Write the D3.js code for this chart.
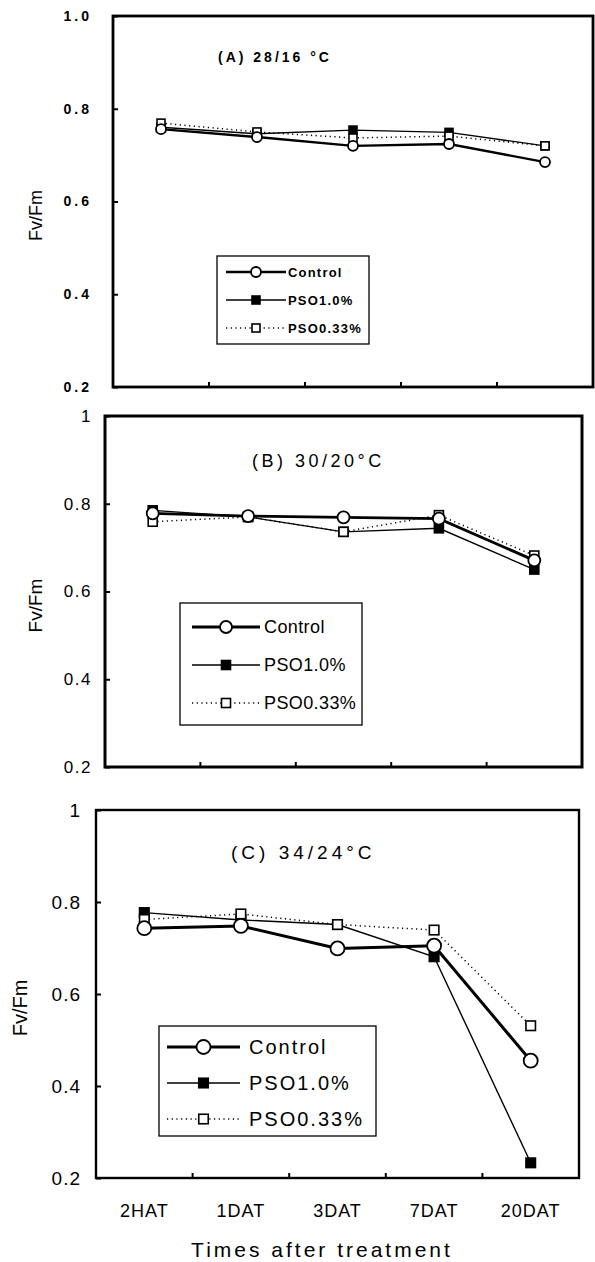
<!DOCTYPE html>
<html>
<head>
<meta charset="utf-8">
<script src="https://cdn.jsdelivr.net/npm/d3@7"></script>
<style>
  body { margin: 0; background: #fff; }
  svg { display: block; font-family: 'Liberation Sans', Arial, sans-serif; }
</style>
</head>
<body>
<svg id="chart" width="595" height="1262"></svg>
<script>
'use strict';

// categories and series
const categories = ['2HAT', '1DAT', '3DAT', '7DAT', '20DAT'];
const seriesNames = ['Control', 'PSO1.0%', 'PSO0.33%'];

// (A) 28/16 °C
const controlA = [0.756, 0.739, 0.720, 0.724, 0.685];
const pso10A = [0.760, 0.746, 0.754, 0.749, 0.720];
const pso033A = [0.769, 0.750, 0.737, 0.741, 0.720];

// (B) 30/20°C
const controlB = [0.778, 0.772, 0.769, 0.766, 0.671];
const pso10B = [0.785, 0.770, 0.736, 0.744, 0.650];
const pso033B = [0.759, 0.770, 0.736, 0.774, 0.682];

// (C) 34/24°C
const controlC = [0.743, 0.748, 0.699, 0.705, 0.455];
const pso10C = [0.777, 0.761, 0.751, 0.681, 0.233];
const pso033C = [0.762, 0.774, 0.751, 0.739, 0.531];

const yTicks = [0.2, 0.4, 0.6, 0.8, 1.0];
const titles = ['(A) 28/16 °C', '(B) 30/20°C', '(C) 34/24°C'];
const yLabel = 'Fv/Fm';
const xLabel = 'Times after treatment';

// layout of the three stacked panels
const panels = [
  {
    values: [controlA, pso10A, pso033A], title: titles[0],
    left: 113, right: 593, top: 16, bottom: 387, frame: 2.8,
    tickFmt: d3.format('.1f'), tickFont: 14, tickWeight: 'bold', tickSpacing: 3, tickPad: 21,
    yLabelX: 42, yLabelFont: 18,
    titleX: 218, titleY: 62, titleFont: 14, titleWeight: 'bold', titleSpacing: 3,
    legend: { x: 217, y: 256, w: 152, h: 88, row: 28, first: 16, lineX0: 226, lineX1: 286, textX: 288, font: 13, weight: 'bold', spacing: 1.2 },
    r: 5, sq: 8, wCtrl: 2.4,
  },
  {
    values: [controlB, pso10B, pso033B], title: titles[1],
    left: 105, right: 582, top: 416, bottom: 767, frame: 3,
    tickFmt: (d) => (d === 1 ? '1' : d3.format('.1f')(d)), tickFont: 17, tickWeight: 'normal', tickSpacing: 1.5, tickPad: 13,
    yLabelX: 42, yLabelFont: 19,
    titleX: 252, titleY: 467, titleFont: 18, titleWeight: 'normal', titleSpacing: 3.5,
    legend: { x: 180, y: 603, w: 182, h: 122, row: 38, first: 24, lineX0: 192, lineX1: 260, textX: 264, font: 18, weight: 'normal', spacing: 0.4 },
    r: 6, sq: 9, wCtrl: 2.8,
  },
  {
    values: [controlC, pso10C, pso033C], title: titles[2],
    left: 96, right: 579, top: 810, bottom: 1178, frame: 2.4,
    tickFmt: (d) => (d === 1 ? '1' : d3.format('.1f')(d)), tickFont: 19, tickWeight: 'normal', tickSpacing: 1, tickPad: 15,
    yLabelX: 27, yLabelFont: 20,
    titleX: 231, titleY: 859, titleFont: 19, titleWeight: 'normal', titleSpacing: 4,
    legend: { x: 159, y: 1026, w: 217, h: 110, row: 36, first: 21, lineX0: 167, lineX1: 240, textX: 249, font: 20, weight: 'normal', spacing: 2 },
    r: 7, sq: 9.5, wCtrl: 3,
    showX: true,
  },
];

const svg = d3.select('#chart');

const styleFor = (p, k) => {
  if (k === 0) return { width: p.wCtrl, dash: null };
  if (k === 1) return { width: 1.4, dash: null };
  return { width: 1.5, dash: '1.2,3.5' };
};

const drawMarker = (g, k, cx, cy, p) => {
  if (k === 0) {
    g.append('circle')
      .attr('cx', cx).attr('cy', cy).attr('r', p.r)
      .attr('fill', '#fff').attr('stroke', '#000').attr('stroke-width', 1.8);
  } else {
    g.append('rect')
      .attr('x', cx - p.sq / 2).attr('y', cy - p.sq / 2)
      .attr('width', p.sq).attr('height', p.sq)
      .attr('fill', k === 1 ? '#000' : '#fff')
      .attr('stroke', '#000').attr('stroke-width', 1.6);
  }
};

panels.forEach((p) => {
  const g = svg.append('g');

  const x = d3.scaleBand().domain(categories).range([p.left, p.right]).padding(0);
  const y = d3.scaleLinear().domain([0.2, 1.0]).range([p.bottom, p.top]);
  const cx = (c) => x(c) + x.bandwidth() / 2;

  // y axis with inward ticks
  const yAxis = g.append('g')
    .attr('transform', `translate(${p.left},0)`)
    .call(d3.axisLeft(y).tickValues(yTicks).tickFormat(p.tickFmt)
      .tickSizeInner(-5).tickSizeOuter(0).tickPadding(p.tickPad));
  yAxis.select('.domain').remove();
  yAxis.selectAll('line').attr('stroke', '#000').attr('stroke-width', 2);
  yAxis.selectAll('text')
    .style('font-family', "'Liberation Sans', Arial, sans-serif")
    .attr('font-size', p.tickFont)
    .attr('font-weight', p.tickWeight)
    .attr('letter-spacing', p.tickSpacing)
    .attr('fill', '#000');

  // x ticks between categories, pointing inward
  g.selectAll('.xtick')
    .data(categories.slice(1))
    .join('line')
    .attr('x1', (c) => x(c)).attr('x2', (c) => x(c))
    .attr('y1', p.bottom).attr('y2', p.bottom - 5)
    .attr('stroke', '#000').attr('stroke-width', 2);

  // frame
  g.append('rect')
    .attr('x', p.left).attr('y', p.top)
    .attr('width', p.right - p.left).attr('height', p.bottom - p.top)
    .attr('fill', 'none').attr('stroke', '#000').attr('stroke-width', p.frame);

  // y label
  g.append('text')
    .attr('transform', `translate(${p.yLabelX},${(p.top + p.bottom) / 2 + 14}) rotate(-90)`)
    .attr('text-anchor', 'middle')
    .attr('font-size', p.yLabelFont)
    .text(yLabel);

  // title
  g.append('text')
    .attr('x', p.titleX).attr('y', p.titleY)
    .attr('font-size', p.titleFont)
    .attr('font-weight', p.titleWeight)
    .attr('letter-spacing', p.titleSpacing)
    .text(p.title);

  // lines
  const line = d3.line().x((d, i) => cx(categories[i])).y((d) => y(d));
  p.values.forEach((vals, k) => {
    const st = styleFor(p, k);
    g.append('path')
      .datum(vals)
      .attr('d', line)
      .attr('fill', 'none')
      .attr('stroke', '#000')
      .attr('stroke-width', st.width)
      .attr('stroke-dasharray', st.dash);
  });

  // markers: filled squares first, open squares over them, circles last
  [1, 2, 0].forEach((k) => {
    p.values[k].forEach((v, i) => drawMarker(g, k, cx(categories[i]), y(v), p));
  });

  // legend
  const L = p.legend;
  const lg = g.append('g');
  lg.append('rect')
    .attr('x', L.x).attr('y', L.y).attr('width', L.w).attr('height', L.h)
    .attr('fill', '#fff').attr('stroke', '#000').attr('stroke-width', 1.3);
  seriesNames.forEach((name, k) => {
    const ry = L.y + L.first + k * L.row;
    const st = styleFor(p, k);
    lg.append('line')
      .attr('x1', L.lineX0).attr('x2', L.lineX1).attr('y1', ry).attr('y2', ry)
      .attr('stroke', '#000').attr('stroke-width', st.width)
      .attr('stroke-dasharray', st.dash);
    drawMarker(lg, k, (L.lineX0 + L.lineX1) / 2, ry, p);
    lg.append('text')
      .attr('x', L.textX).attr('y', ry)
      .attr('dy', '0.36em')
      .attr('font-size', L.font)
      .attr('font-weight', L.weight)
      .attr('letter-spacing', L.spacing)
      .text(name);
  });

  if (p.showX) {
    g.selectAll('.xlab')
      .data(categories)
      .join('text')
      .attr('x', (c) => cx(c))
      .attr('y', 1217)
      .attr('text-anchor', 'middle')
      .attr('font-size', 18)
      .attr('letter-spacing', 1)
      .text((c) => c);
    g.append('text')
      .attr('x', 322).attr('y', 1257)
      .attr('text-anchor', 'middle')
      .attr('font-size', 21)
      .attr('letter-spacing', 3)
      .text(xLabel);
  }
});
</script>
</body>
</html>
